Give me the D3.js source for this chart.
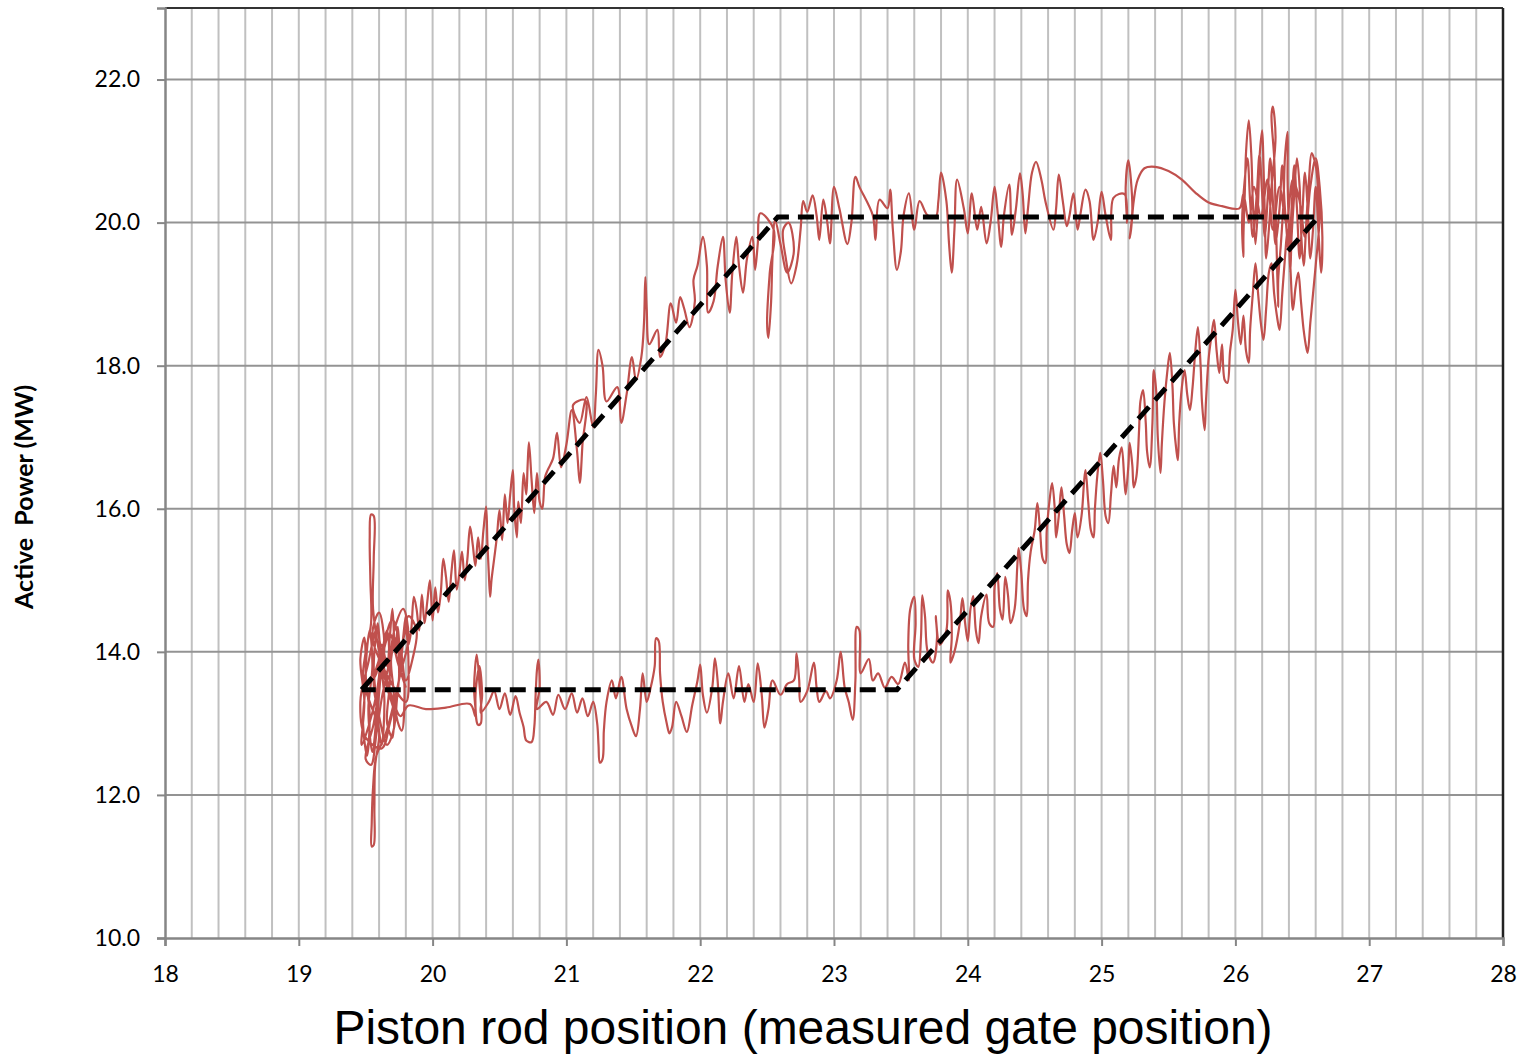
<!DOCTYPE html>
<html>
<head>
<meta charset="utf-8">
<script src="https://cdn.jsdelivr.net/npm/d3@7"></script>
<style>
  body { margin: 0; background: #fff; }
  svg { display: block; }
</style>
</head>
<body>
<svg width="1524" height="1054"></svg>
<script>
// axis ticks
const xTicks = [18, 19, 20, 21, 22, 23, 24, 25, 26, 27, 28]
const yTicks = [10, 12, 14, 16, 18, 20, 22]

// idealised characteristic (dashed)
const refLine = [[19.47, 13.47], [22.58, 20.08], [26.62, 20.08], [23.47, 13.47], [19.47, 13.47]]

// measured trace
const clusterLeft = [
  [19.80, 13.50], [19.74, 13.85], [19.68, 14.25], [19.62, 13.9], [19.58, 13.4], [19.52, 12.95], [19.47, 12.7],
  [19.49, 13.3], [19.46, 13.9], [19.49, 14.2], [19.5, 13.6], [19.48, 13.0], [19.51, 12.55],
  [19.53, 13.1], [19.5, 13.7], [19.53, 14.3], [19.55, 13.8], [19.52, 13.2], [19.55, 12.6],
  [19.58, 13.2], [19.56, 13.8], [19.59, 14.4], [19.61, 13.7], [19.59, 13.1], [19.62, 12.7],
  [19.64, 13.3], [19.62, 13.9], [19.66, 14.3], [19.68, 13.6], [19.66, 13.0], [19.7, 12.8],
  [19.71, 13.4], [19.69, 13.9], [19.73, 14.2], [19.75, 13.7], [19.73, 13.1], [19.77, 12.9],
  [19.79, 13.5], [19.77, 14.0], [19.8, 14.3], [19.82, 13.8], [19.8, 13.3],
  [19.55, 14.2], [19.6, 14.55], [19.64, 14.1], [19.6, 13.5], [19.56, 13.0],
  [19.5, 12.5], [19.54, 12.42], [19.58, 12.85], [19.62, 13.35], [19.67, 13.8], [19.72, 14.35], [19.78, 14.6],
  [19.82, 14.2], [19.76, 13.7], [19.7, 13.2], [19.64, 12.8], [19.58, 12.55],
  [19.555, 12.1], [19.545, 11.6], [19.545, 11.28], [19.56, 11.3], [19.565, 11.8], [19.57, 12.4],
  [19.6, 12.9], [19.53, 13.3], [19.48, 13.6], [19.5, 14.0], [19.54, 14.4],
  [19.535, 15.0], [19.53, 15.6], [19.54, 15.92], [19.56, 15.9], [19.56, 15.3], [19.555, 14.6],
  [19.6, 14.0], [19.66, 13.5], [19.72, 13.05], [19.66, 12.7], [19.6, 13.1], [19.56, 13.6], [19.62, 14.0],
  [19.7, 14.45], [19.76, 14.05], [19.8, 13.6], [19.85, 13.9], [19.88, 14.3], [19.82, 14.5], [19.74, 13.5],
  [19.68, 13.0], [19.62, 12.65], [19.5, 12.8], [19.46, 13.3], [19.52, 13.85], [19.58, 14.3], [19.64, 13.75],
  [19.7, 13.35], [19.76, 13.1], [19.82, 13.25],
  [19.95, 13.2], [20.1, 13.22], [20.28, 13.27]
]

const bottomRun = [
  [20.32, 13.1], [20.31, 13.5], [20.33, 13.96], [20.35, 13.55], [20.36, 13.0], [20.34, 12.98], [20.32, 13.35],
  [20.35, 13.8], [20.37, 13.4], [20.36, 13.15],
  [20.42, 13.3], [20.46, 13.45], [20.5, 13.2], [20.54, 13.42], [20.58, 13.12], [20.62, 13.38], [20.65, 13.15],
  [20.68, 12.95], [20.7, 12.76], [20.74, 12.74], [20.76, 12.95], [20.77, 13.4], [20.78, 13.75], [20.79, 13.89],
  [20.8, 13.5], [20.78, 13.2],
  [20.85, 13.3], [20.9, 13.12], [20.94, 13.4], [20.99, 13.2], [21.04, 13.42], [21.08, 13.15], [21.12, 13.35],
  [21.16, 13.1], [21.2, 13.3],
  [21.23, 13.0], [21.24, 12.7], [21.25, 12.45], [21.27, 12.5], [21.28, 12.9], [21.3, 13.3],
  [21.34, 13.6], [21.37, 13.35], [21.41, 13.65], [21.45, 13.2], [21.49, 12.95], [21.52, 12.82], [21.55, 13.2],
  [21.57, 13.7], [21.6, 13.3],
  [21.63, 13.5], [21.66, 13.8], [21.67, 14.19], [21.69, 14.15], [21.7, 13.7], [21.72, 13.3],
  [21.75, 13.0], [21.77, 12.86], [21.79, 12.95], [21.82, 13.3],
  [21.86, 13.1], [21.9, 12.88], [21.94, 13.25], [21.98, 13.6], [22.0, 13.82], [22.02, 13.4], [22.05, 13.15],
  [22.09, 13.5], [22.11, 13.91], [22.13, 13.6], [22.15, 13.0], [22.17, 13.3],
  [22.21, 13.7], [22.25, 13.35], [22.29, 13.8], [22.33, 13.3], [22.36, 13.55],
  [22.4, 13.3], [22.43, 13.84], [22.46, 13.4], [22.48, 12.94], [22.51, 13.2], [22.54, 13.6],
  [22.6, 13.4], [22.65, 13.55], [22.7, 13.6], [22.72, 13.98], [22.74, 13.6], [22.75, 13.3],
  [22.8, 13.45], [22.85, 13.85], [22.87, 13.5], [22.89, 13.3], [22.94, 13.45], [22.97, 13.35],
  [23.02, 13.6], [23.05, 14.0], [23.08, 13.5], [23.11, 13.3],
  [23.14, 13.05], [23.16, 13.6], [23.17, 14.35], [23.19, 14.3], [23.2, 13.7],
  [23.26, 13.9], [23.29, 13.6], [23.33, 13.7], [23.38, 13.5], [23.43, 13.65], [23.48, 13.55], [23.53, 13.85]
]

const rightRamp = [
  [23.56, 13.6], [23.555, 14.1], [23.57, 14.6], [23.6, 14.77], [23.61, 14.4], [23.6, 13.9],
  [23.63, 13.79], [23.65, 14.2], [23.66, 14.79], [23.68, 14.5], [23.7, 14.0],
  [23.74, 13.85], [23.77, 14.2], [23.76, 14.5], [23.79, 14.1],
  [23.84, 14.3], [23.85, 14.86], [23.87, 14.7], [23.88, 14.2], [23.87, 13.85], [23.9, 14.0],
  [23.94, 14.4], [23.96, 14.75], [23.98, 14.4], [24.0, 14.15], [24.02, 14.6], [24.04, 14.78], [24.06, 14.3],
  [24.08, 14.12], [24.1, 14.5],
  [24.14, 14.8], [24.16, 14.4], [24.19, 14.35], [24.2, 14.9], [24.22, 15.1], [24.24, 14.6], [24.26, 14.45],
  [24.28, 15.05], [24.3, 14.8], [24.32, 14.4],
  [24.35, 14.6], [24.37, 15.2], [24.38, 15.45], [24.4, 15.1], [24.42, 14.6], [24.44, 14.5], [24.45, 15.0], [24.47, 15.4],
  [24.5, 15.7], [24.52, 16.08], [24.54, 15.7], [24.56, 15.3], [24.58, 15.24], [24.59, 15.7],
  [24.61, 16.1], [24.63, 16.36], [24.65, 16.0], [24.66, 15.6], [24.68, 15.9], [24.7, 16.3], [24.72, 15.9],
  [24.74, 15.5], [24.76, 15.38], [24.78, 15.7], [24.8, 15.94], [24.82, 15.6],
  [24.85, 15.9], [24.87, 16.4], [24.88, 16.54], [24.9, 16.1], [24.92, 15.7], [24.94, 15.6], [24.95, 16.0],
  [24.97, 16.5], [24.99, 16.78], [25.01, 16.4], [25.03, 15.9], [25.05, 15.8], [25.07, 16.2], [25.09, 16.6],
  [25.11, 16.3], [25.13, 16.7], [25.15, 16.86], [25.17, 16.4], [25.18, 16.2],
  [25.2, 16.6], [25.21, 16.92], [25.23, 16.6], [25.24, 16.3], [25.26, 16.45], [25.28, 17.1], [25.29, 17.5],
  [25.31, 17.66], [25.33, 17.2], [25.34, 16.8], [25.36, 16.58],
  [25.38, 17.2], [25.39, 17.94], [25.41, 17.6], [25.42, 17.0], [25.44, 16.5], [25.45, 16.9], [25.47, 17.5], [25.49, 17.9],
  [25.51, 18.18], [25.53, 17.7], [25.54, 17.2], [25.56, 16.8], [25.57, 16.68], [25.58, 17.2], [25.6, 17.7],
  [25.62, 17.94], [25.64, 17.6], [25.66, 17.38], [25.68, 17.7],
  [25.7, 18.2], [25.72, 18.54], [25.74, 18.0], [25.75, 17.5], [25.77, 17.1], [25.78, 17.5], [25.8, 18.1],
  [25.82, 18.4], [25.84, 18.64], [25.86, 18.2], [25.88, 17.9], [25.9, 18.3], [25.92, 17.8], [25.94, 17.76],
  [25.96, 18.2], [25.98, 18.5],
  [26.0, 19.06], [26.02, 18.6], [26.04, 18.3], [26.06, 18.7], [26.08, 18.2], [26.1, 18.04], [26.11, 18.5],
  [26.13, 19.0], [26.15, 19.43], [26.17, 19.0], [26.19, 18.6], [26.21, 18.36], [26.23, 18.8], [26.25, 19.3],
  [26.27, 19.43], [26.29, 19.0], [26.31, 18.7], [26.33, 18.5], [26.35, 19.0], [26.37, 19.5], [26.39, 19.9],
  [26.41, 19.4], [26.43, 18.78], [26.45, 19.1], [26.47, 19.3], [26.49, 18.9], [26.51, 18.5], [26.53, 18.25],
  [26.54, 18.18], [26.56, 18.6], [26.58, 19.0], [26.6, 19.4], [26.63, 20.1]
]

const clusterRight = [
  [26.62, 20.4], [26.6, 20.8], [26.57, 20.97], [26.55, 20.6], [26.53, 20.0], [26.51, 19.4], [26.49, 19.9],
  [26.48, 20.5], [26.46, 20.9], [26.44, 20.4], [26.42, 19.8], [26.41, 19.3], [26.4, 19.9], [26.39, 20.6],
  [26.39, 21.27], [26.37, 20.9], [26.36, 20.3], [26.34, 19.7], [26.32, 19.2], [26.32, 18.82], [26.31, 19.5],
  [26.3, 20.2], [26.29, 20.9], [26.27, 21.5], [26.28, 21.62], [26.3, 21.2], [26.27, 20.5], [26.25, 19.9],
  [26.23, 19.5], [26.22, 20.1], [26.21, 20.8], [26.2, 21.29], [26.18, 20.9], [26.17, 20.3], [26.15, 19.7],
  [26.13, 20.3], [26.12, 20.9], [26.1, 21.43], [26.08, 21.0], [26.07, 20.4], [26.06, 19.8], [26.06, 19.52],
  [26.05, 20.0], [26.07, 20.6], [26.09, 20.9], [26.11, 20.3], [26.13, 19.8], [26.16, 20.4], [26.18, 20.95],
  [26.2, 20.4], [26.22, 19.8], [26.24, 20.3], [26.26, 20.9], [26.28, 20.3], [26.3, 19.7], [26.33, 20.2],
  [26.35, 20.8], [26.37, 20.2], [26.4, 19.6], [26.42, 20.2], [26.44, 20.8], [26.46, 20.2], [26.48, 19.5],
  [26.5, 20.1], [26.52, 20.7], [26.54, 20.2], [26.56, 19.5], [26.58, 19.9], [26.6, 20.5], [26.62, 19.9],
  [26.64, 19.3], [26.65, 19.8], [26.63, 20.5], [26.6, 20.9], [26.56, 20.5], [26.52, 19.8], [26.48, 20.3],
  [26.43, 20.6], [26.38, 20.0], [26.33, 20.5], [26.28, 19.9], [26.24, 20.6], [26.19, 20.1], [26.14, 20.5],
  [26.1, 20.0], [26.06, 20.4], [26.03, 20.2],
  [25.9, 20.23], [25.8, 20.28], [25.7, 20.42], [25.6, 20.6], [25.5, 20.72], [25.4, 20.78], [25.32, 20.76], [25.27, 20.6]
]

const topRun = [
  [25.24, 20.3], [25.22, 19.9], [25.21, 19.78], [25.23, 20.2], [25.2, 20.87], [25.18, 20.5], [25.19, 20.0], [25.17, 20.4],
  [25.09, 20.35], [25.07, 19.76], [25.03, 20.1], [25.0, 20.43], [24.97, 20.0],
  [24.94, 19.76], [24.91, 20.3], [24.88, 20.46], [24.84, 20.1],
  [24.82, 19.9], [24.79, 20.41], [24.76, 20.1], [24.74, 19.95],
  [24.71, 20.3], [24.68, 20.67], [24.66, 20.2], [24.64, 19.9],
  [24.58, 20.3], [24.55, 20.6], [24.51, 20.85], [24.48, 20.7],
  [24.45, 20.2], [24.43, 19.85], [24.41, 20.4], [24.39, 20.69],
  [24.36, 20.2], [24.33, 19.83], [24.31, 20.53],
  [24.27, 20.1], [24.25, 19.66], [24.22, 20.2], [24.2, 20.5],
  [24.17, 20.0], [24.14, 19.71], [24.1, 20.22], [24.07, 19.9],
  [24.03, 20.41], [24.0, 19.85], [23.97, 20.2],
  [23.92, 20.6], [23.9, 19.9], [23.88, 19.3], [23.86, 19.7], [23.84, 20.3],
  [23.8, 20.7], [23.78, 20.3], [23.76, 20.08],
  [23.7, 20.1], [23.64, 20.3], [23.6, 19.9], [23.56, 20.41], [23.52, 20.1],
  [23.5, 19.6], [23.47, 19.34], [23.44, 19.9], [23.42, 20.46], [23.4, 20.2],
  [23.34, 20.32], [23.31, 19.76], [23.29, 20.1],
  [23.19, 20.5], [23.16, 20.64], [23.13, 20.0], [23.1, 19.7],
  [23.04, 20.2], [23.0, 20.5], [22.97, 19.71], [22.95, 20.0],
  [22.92, 20.32], [22.89, 19.76], [22.87, 20.1],
  [22.84, 20.38], [22.8, 20.15], [22.77, 20.3],
  [22.75, 19.9], [22.72, 19.4], [22.68, 19.15], [22.64, 19.5], [22.62, 19.9], [22.66, 20.0], [22.7, 19.6],
  [22.65, 19.3], [22.6, 19.7],
  [22.56, 20.04], [22.54, 19.5], [22.53, 18.9], [22.51, 18.39], [22.5, 18.6], [22.52, 19.3], [22.55, 19.9]
]

const leftRamp = [
  [22.45, 20.13], [22.43, 19.7], [22.41, 19.34], [22.39, 19.8],
  [22.35, 19.5], [22.32, 19.02], [22.29, 19.4], [22.27, 19.8],
  [22.24, 19.3], [22.22, 18.74], [22.19, 19.2], [22.17, 19.8],
  [22.13, 19.38], [22.1, 18.9], [22.06, 18.74],
  [22.05, 19.4], [22.02, 19.8], [21.98, 19.4], [21.95, 19.2],
  [21.96, 18.9], [21.92, 18.54], [21.88, 18.8], [21.85, 18.96],
  [21.82, 18.6], [21.78, 18.87], [21.74, 18.3], [21.7, 18.12], [21.68, 18.5],
  [21.62, 18.3], [21.6, 18.8], [21.59, 19.24], [21.58, 18.6], [21.56, 18.12],
  [21.52, 17.8], [21.49, 18.12], [21.45, 17.6], [21.41, 17.2], [21.38, 17.7],
  [21.3, 17.5], [21.27, 18.0], [21.24, 18.22], [21.22, 17.6], [21.2, 17.14],
  [21.15, 17.56], [21.1, 17.2], [21.05, 17.45],
  [21.14, 17.52], [21.12, 16.9], [21.1, 16.36], [21.08, 16.8],
  [21.04, 17.38], [21.0, 16.9], [20.96, 16.58],
  [20.93, 17.06], [20.9, 16.7], [20.86, 16.54],
  [20.84, 16.44], [20.82, 16.0], [20.8, 16.1], [20.78, 16.5], [20.76, 15.94], [20.74, 16.4], [20.72, 16.93],
  [20.71, 16.6], [20.7, 16.2], [20.68, 16.5], [20.66, 15.8], [20.64, 16.1], [20.63, 15.6], [20.61, 16.0],
  [20.6, 16.54], [20.58, 16.2], [20.56, 15.8], [20.54, 16.2], [20.52, 15.56], [20.5, 15.98], [20.48, 15.6],
  [20.46, 15.3], [20.44, 15.0], [20.43, 14.77], [20.42, 15.1], [20.41, 15.5], [20.4, 16.03], [20.38, 15.7],
  [20.36, 15.3], [20.34, 15.6], [20.32, 15.2], [20.3, 15.5], [20.28, 15.75], [20.26, 15.3], [20.24, 15.0],
  [20.22, 15.4], [20.2, 15.1], [20.18, 14.87], [20.16, 15.42], [20.14, 15.1], [20.12, 14.7], [20.1, 15.05],
  [20.08, 15.3], [20.06, 14.8], [20.04, 14.55], [20.02, 14.9], [20.0, 14.44], [19.98, 15.0], [19.96, 14.7],
  [19.94, 14.4], [19.92, 14.8], [19.9, 14.3], [19.88, 14.6], [19.86, 14.77], [19.84, 14.3], [19.82, 14.1],
  [19.8, 14.5], [19.78, 14.2], [19.76, 13.9], [19.74, 14.35], [19.72, 14.0], [19.7, 14.6], [19.68, 14.2],
  [19.66, 13.8], [19.62, 14.1], [19.58, 13.7], [19.55, 13.6]
]

const trace = [].concat(clusterLeft, bottomRun, rightRamp, clusterRight, topRun, leftRamp)

const svg = d3.select('svg')
const plot = {left: 165, right: 1503, top: 8, bottom: 938}

const x = d3.scaleLinear().domain([18, 28]).range([plot.left, plot.right])
const y = d3.scaleLinear().domain([10, 23]).range([plot.bottom, plot.top])

// minor vertical grid, every 0.2
const minorX = d3.range(1, 50).map(i => 18 + i * 0.2)
svg.append('g')
  .selectAll('line')
  .data(minorX)
  .enter()
  .append('line')
  .attr('x1', d => x(d)).attr('x2', d => x(d))
  .attr('y1', plot.top).attr('y2', plot.bottom)
  .attr('stroke', '#c0c0c0')
  .attr('stroke-width', 2)

// major horizontal grid
svg.append('g')
  .selectAll('line')
  .data(yTicks.filter(d => d > 10))
  .enter()
  .append('line')
  .attr('x1', plot.left).attr('x2', plot.right)
  .attr('y1', d => y(d)).attr('y2', d => y(d))
  .attr('stroke', '#939393')
  .attr('stroke-width', 2)

// frame: top and right darker
svg.append('line')
  .attr('x1', plot.left).attr('x2', plot.right)
  .attr('y1', plot.top).attr('y2', plot.top)
  .attr('stroke', '#333').attr('stroke-width', 2)
svg.append('line')
  .attr('x1', plot.right).attr('x2', plot.right)
  .attr('y1', plot.top).attr('y2', plot.bottom)
  .attr('stroke', '#222').attr('stroke-width', 2.5)

const tickFont = 'Lato, "Open Sans", sans-serif'

const yAxis = svg.append('g')
  .attr('transform', 'translate(' + plot.left + ',0)')
  .call(d3.axisLeft(y).tickValues(yTicks).tickFormat(d3.format('.1f')).tickSize(8).tickPadding(17))
yAxis.select('.domain').attr('stroke', '#868686').attr('stroke-width', 2.5)
yAxis.selectAll('.tick line').attr('stroke', '#868686').attr('stroke-width', 2)
yAxis.selectAll('.tick text')
  .style('font', '23px ' + tickFont)
  .attr('fill', '#000')

const xAxis = svg.append('g')
  .attr('transform', 'translate(0,' + plot.bottom + ')')
  .call(d3.axisBottom(x).tickValues(xTicks).tickFormat(d3.format('d')).tickSize(8).tickPadding(20))
xAxis.select('.domain').attr('stroke', '#868686').attr('stroke-width', 2.5)
xAxis.selectAll('.tick line').attr('stroke', '#868686').attr('stroke-width', 2)
xAxis.selectAll('.tick text')
  .style('font', '23px ' + tickFont)
  .attr('fill', '#000')

// measured trace
const line = d3.line()
  .curve(d3.curveCatmullRom.alpha(0.5))
  .x(d => x(d[0]))
  .y(d => y(d[1]))

svg.append('path')
  .datum(trace)
  .attr('d', line)
  .attr('fill', 'none')
  .attr('stroke', '#c0504d')
  .attr('stroke-width', 2.2)
  .attr('stroke-linejoin', 'round')

// dashed reference
svg.append('path')
  .datum(refLine)
  .attr('d', d3.line().x(d => x(d[0])).y(d => y(d[1])))
  .attr('fill', 'none')
  .attr('stroke', '#000')
  .attr('stroke-width', 5)
  .attr('stroke-dasharray', '16,9')

// titles
svg.append('text')
  .attr('x', 803)
  .attr('y', 1044)
  .attr('text-anchor', 'middle')
  .style('font', '48px "Liberation Sans", Arial, sans-serif')
  .text('Piston rod position (measured gate position)')

svg.append('text')
  .attr('transform', 'translate(33,497) rotate(-90)')
  .attr('text-anchor', 'middle')
  .style('font', 'bold 25px ' + tickFont)
  .style('white-space', 'pre')
  .text('Active  Power (MW)')
</script>
</body>
</html>
